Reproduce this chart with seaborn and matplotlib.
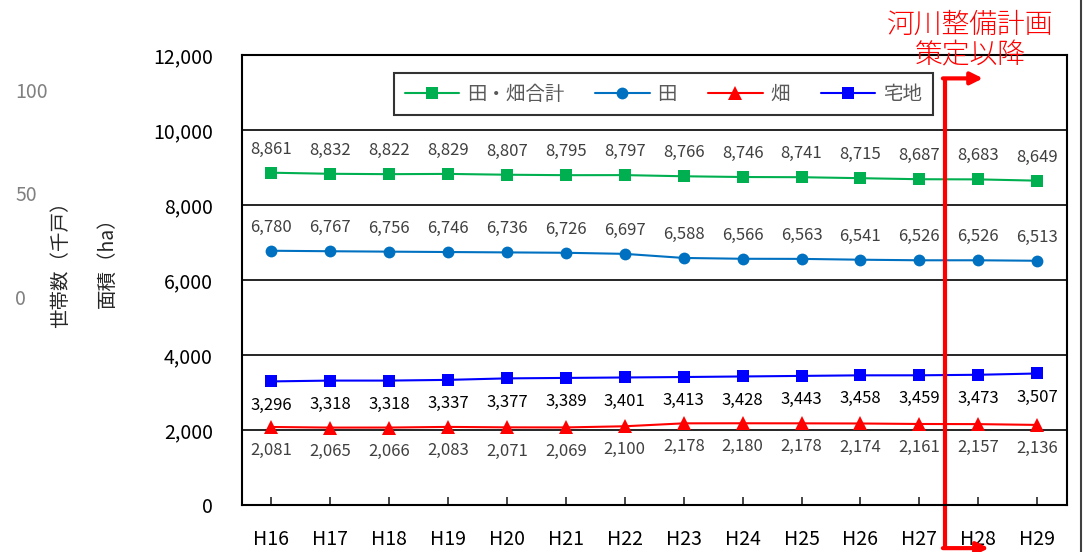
import numpy as np
import pandas as pd
import matplotlib
matplotlib.use('Agg')
import matplotlib.pyplot as plt
import matplotlib.transforms as mtransforms
import seaborn as sns

# data
years = ['H16', 'H17', 'H18', 'H19', 'H20', 'H21', 'H22',
         'H23', 'H24', 'H25', 'H26', 'H27', 'H28', 'H29']
total = [8861, 8832, 8822, 8829, 8807, 8795, 8797, 8766, 8746, 8741, 8715, 8687, 8683, 8649]
ta = [6780, 6767, 6756, 6746, 6736, 6726, 6697, 6588, 6566, 6563, 6541, 6526, 6526, 6513]
hata = [2081, 2065, 2066, 2083, 2071, 2069, 2100, 2178, 2180, 2178, 2174, 2161, 2157, 2136]
takuchi = [3296, 3318, 3318, 3337, 3377, 3389, 3401, 3413, 3428, 3443, 3458, 3459, 3473, 3507]
house_ticks = [0, 50, 100]

sns.set_style('white')
plt.rcParams['font.family'] = ['Noto Sans CJK JP', 'DejaVu Sans']

fig = plt.figure(figsize=(10.85, 5.52), dpi=100)
ax = fig.add_axes([0.223, 0.0851, 0.760, 0.8153])

# series: (label, values, color, marker, size, label offset, label color)
series = [
    ('田・畑合計', total, '#00B050', 's', 8, 17, '#404040'),
    ('田', ta, '#0070C0', 'o', 8.5, 17, '#404040'),
    ('畑', hata, '#FF0000', '^', 9.5, -17, '#404040'),
    ('宅地', takuchi, '#0000FF', 's', 9, -17, '#000000'),
]

for name, vals, col, mk, ms, off, lcol in series:
    sns.lineplot(x=years, y=vals, ax=ax, color=col, marker=mk, markersize=ms,
                 markeredgewidth=0, linewidth=1.5, label=name, sort=False)
    for i, v in enumerate(vals):
        ax.annotate(f'{v:,}', (i, v), xytext=(0, off), textcoords='offset points',
                    ha='center', va='center', fontsize=12, color=lcol)

ax.set_xlim(-0.5, len(years) - 0.5)
ax.set_ylim(0, 12000)
ax.set_yticks(np.arange(0, 12001, 2000))
ax.yaxis.set_major_formatter(matplotlib.ticker.FuncFormatter(lambda v, p: f'{int(v):,}'))
ax.grid(axis='y', color='black', linewidth=1.2)
ax.set_axisbelow(True)
for s in ax.spines.values():
    s.set_color('black')
    s.set_linewidth(1.5)
ax.tick_params(axis='y', length=0, pad=21, labelsize=14, labelcolor='black')
ax.tick_params(axis='x', direction='in', length=6, width=1.2, pad=17, labelsize=14,
               labelcolor='black', bottom=True)
ax.set_xlabel('')
ax.set_ylabel('面積（ha）', fontsize=14)
ax.yaxis.set_label_coords(-0.151, 0.55)

leg = ax.legend(loc='center', bbox_to_anchor=(0.511, 0.913), ncol=4, fontsize=14,
                frameon=True, fancybox=False, edgecolor='black', handlelength=2.8,
                columnspacing=1.6, handletextpad=0.4, borderpad=0.55)
leg.get_frame().set_linewidth(1.5)
for t in leg.get_texts():
    t.set_color('#595959')

# ghost household axis on the far left
ax2 = fig.add_axes([0.013, 0.462, 0.001, 0.375])
ax2.set_ylim(0, 100)
ax2.set_yticks(house_ticks)
ax2.yaxis.tick_right()
ax2.tick_params(axis='y', length=0, pad=0, labelsize=14, labelcolor='#808080')
ax2.set_xticks([])
for s in ax2.spines.values():
    s.set_visible(False)
ax2.patch.set_alpha(0)
fig.text(0.056, 0.53, '世帯数（千戸）', rotation=90, ha='center', va='center', fontsize=14)

# red bracket arrow: plan adopted from H28 onwards
trans = mtransforms.blended_transform_factory(ax.transData, fig.transFigure)
xb = 11.43
ax.plot([xb, xb], [0.007, 0.858], transform=trans, color='#FF0000', linewidth=3,
        clip_on=False, solid_capstyle='butt')
ax.annotate('', xy=(xb + 0.65, 0.858), xytext=(xb - 0.03, 0.858), xycoords=trans,
            textcoords=trans, annotation_clip=False,
            arrowprops=dict(arrowstyle='-|>', color='#FF0000', lw=3, mutation_scale=18,
                            shrinkA=0, shrinkB=0))
ax.annotate('', xy=(xb + 0.75, 0.007), xytext=(xb - 0.03, 0.007), xycoords=trans,
            textcoords=trans, annotation_clip=False,
            arrowprops=dict(arrowstyle='-|>', color='#FF0000', lw=3, mutation_scale=18,
                            shrinkA=0, shrinkB=0))
fig.text(0.894, 0.927, '河川整備計画\n策定以降', ha='center', va='center', fontsize=20,
         color='#FF0000', linespacing=1.12, fontweight='light')

# chart border on the right edge
fig.add_artist(plt.Line2D([0.9965, 0.9965], [0, 1], color='#404040', linewidth=1.5))

fig.savefig('out.png', dpi=100)
